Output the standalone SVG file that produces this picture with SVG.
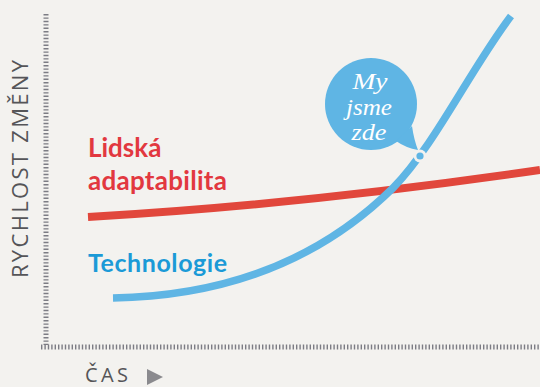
<svg xmlns="http://www.w3.org/2000/svg" width="540" height="387" viewBox="0 0 540 387">
  <style>
    .axis { fill: none; stroke: #7c7c84; stroke-width: 5; stroke-dasharray: 1.4 2; }
    .axislabel { font-family: "Open Sans", "Liberation Sans", sans-serif; font-weight: 400; fill: #555558; }
    .lbl { font-family: Lato, "Liberation Sans", sans-serif; font-weight: 700; }
    .bubbletext { font-family: "Liberation Serif", serif; font-style: italic; font-size: 24px; fill: #ffffff; text-anchor: middle; }
  </style>
  <rect x="0" y="0" width="540" height="387" fill="#f3f2ef"/>

  <g id="axes">
    <line class="axis" x1="46" y1="14" x2="46" y2="345"/>
    <line class="axis" x1="41" y1="347" x2="540" y2="347"/>
    <text class="axislabel" font-size="22" transform="translate(28,278) rotate(-90)" textLength="218" lengthAdjust="spacing">RYCHLOST ZMĚNY</text>
    <text class="axislabel" font-size="20" x="85" y="382" textLength="43" lengthAdjust="spacing">ČAS</text>
    <polygon points="147,369 163,377 147,385" fill="#8a8a8e"/>
  </g>

  <g id="human">
    <path d="M88,217 Q300,205 540,170" fill="none" stroke="#e1473c" stroke-width="8"/>
    <text class="lbl" font-size="26" fill="#e2383f" x="88" y="157">Lidská</text>
    <text class="lbl" font-size="26" fill="#e2383f" x="88" y="190" textLength="139" lengthAdjust="spacing">adaptabilita</text>
  </g>

  <g id="technology">
    <path d="M113,298 C240,296 330,250 393,188 C435,145 470,70 511,16" fill="none" stroke="#5fb5e4" stroke-width="7.5"/>
    <text class="lbl" font-size="25" fill="#1b9ad7" x="88" y="272" textLength="139" lengthAdjust="spacing">Technologie</text>
  </g>

  <g id="here">
    <circle cx="420" cy="156" r="6.5" fill="#f3f2ef"/>
    <circle cx="420" cy="156" r="3.6" fill="#5fb5e4"/>
    <circle cx="371" cy="104" r="46" fill="#5fb5e4"/>
    <path d="M396,141 L412,126 Q414,140 418,150 Q406,148 396,141 Z" fill="#5fb5e4"/>
    <text class="bubbletext" x="370" y="89" textLength="35" lengthAdjust="spacingAndGlyphs">My</text>
    <text class="bubbletext" x="369" y="115" textLength="46" lengthAdjust="spacingAndGlyphs">jsme</text>
    <text class="bubbletext" x="369" y="140" textLength="35" lengthAdjust="spacingAndGlyphs">zde</text>
  </g>
</svg>
